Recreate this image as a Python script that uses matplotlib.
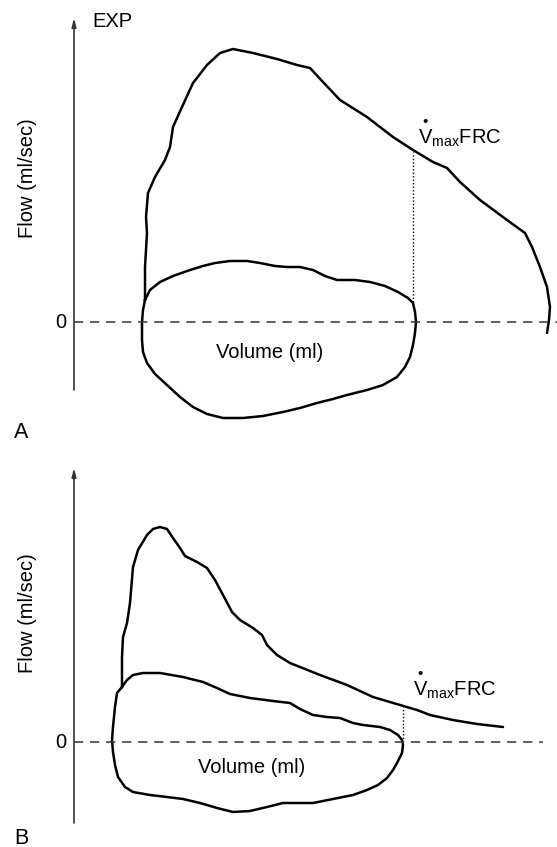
import matplotlib
matplotlib.use("Agg")
import matplotlib.pyplot as plt

plt.rcParams['font.family'] = ['Liberation Sans', 'DejaVu Sans']
plt.rcParams['mathtext.fontset'] = 'custom'
plt.rcParams['mathtext.rm'] = 'Liberation Sans'
plt.rcParams['mathtext.it'] = 'Liberation Sans'

# traced curves, (volume, flow) in arbitrary units, zero flow = 0
# panel A: maximal expiratory curve and tidal loop
a_max_vol = [71, 71, 73, 72, 74, 81, 91, 96, 99, 108, 119, 133, 146, 159, 179, 203, 223, 236, 249,
             266, 293, 319, 339, 359, 373, 386, 406, 433, 451, 458, 466, 473, 476, 475, 473]
a_max_flow = [22, 55, 89, 105, 129, 145, 162, 175, 195, 215, 239, 257, 269, 273, 269, 263, 257, 254, 240,
              222, 205, 185, 172, 160, 154, 140, 122, 102, 89, 75, 55, 35, 15, 2, -11]
a_tid_vol = [71, 76, 86, 99, 116, 129, 141, 156, 173, 186, 201, 213, 226, 239, 251, 263, 281, 296, 311,
             324, 334, 339, 341, 342, 341, 339, 336, 331, 323, 309, 293, 273, 259, 243, 226, 209, 189,
             169, 149, 133, 119, 106, 93, 81, 73, 69, 68, 68, 69, 71]
a_tid_flow = [22, 32, 40, 46, 52, 56, 59, 61, 61, 59, 56, 55, 55, 52, 46, 42, 42, 40, 36,
              30, 24, 19, 10, 0, -11, -23, -35, -45, -55, -63, -68, -73, -77, -81, -86, -90, -94,
              -96, -96, -92, -85, -75, -63, -52, -41, -30, -18, 0, 12, 22]
a_frc_vol = 339
a_frc_flow = (20, 170)

# panel B
b_max_vol = [48, 48, 49, 53, 56, 59, 64, 73, 79, 86, 93, 99, 106, 111, 123, 133, 141, 149, 158, 166,
             179, 188, 193, 203, 216, 226, 246, 273, 299, 326, 343, 356, 379, 403, 429]
b_max_flow = [55, 85, 105, 119, 139, 175, 192, 207, 213, 215, 213, 204, 194, 186, 180, 174, 162, 147, 130, 122,
              114, 107, 97, 87, 79, 75, 67, 57, 45, 37, 32, 27, 22, 18, 15]
b_tid_vol = [48, 53, 59, 69, 86, 109, 129, 143, 156, 176, 199, 216, 226, 239, 253, 266, 279, 289, 306,
             316, 324, 328, 329, 328, 323, 319, 313, 304, 293, 279, 259, 239, 226, 209, 193, 176, 159,
             143, 126, 109, 93, 76, 59, 51, 44, 41, 39, 38, 39, 41, 43, 48]
b_tid_flow = [55, 62, 67, 69, 69, 65, 60, 54, 48, 44, 41, 39, 33, 27, 25, 24, 19, 17, 15,
              12, 7, 2, -3, -11, -21, -28, -36, -43, -48, -53, -57, -61, -61, -61, -65, -69, -70,
              -66, -61, -57, -55, -53, -50, -45, -35, -23, -10, 2, 15, 35, 49, 55]
b_frc_vol = 329
b_frc_flow = (0, 35)

W, H = 557, 847
fig = plt.figure(figsize=(W / 100, H / 100), dpi=100)
fs = 14.5


def panel(ax, mv, mf, tv, tf, fv, ff, ax_lo, ax_hi, dash_end, flow_lab_y, vol_lab, frc_pos, exp):
    ax.set_xlim(-74, 483)
    ax.axis('off')
    ax.plot(mv, mf, color='black', lw=1.8, solid_capstyle='round', solid_joinstyle='round')
    ax.plot(tv, tf, color='black', lw=1.8, solid_joinstyle='round')
    ax.plot([fv, fv], ff, color='black', lw=1.0, linestyle=(0, (1, 1.5)))
    ax.plot([0, dash_end], [0, 0], color='#333333', lw=1.1, linestyle=(0, (6, 4.5)))
    ax.annotate('', xy=(0, ax_hi), xytext=(0, ax_lo),
                arrowprops=dict(arrowstyle='-|>,head_length=0.5,head_width=0.13', color='#333333', lw=1.2,
                                shrinkA=0, shrinkB=0))
    ax.text(-8, 0, '0', fontsize=fs, ha='right', va='center')
    ax.text(-47, flow_lab_y, 'Flow (ml/sec)', fontsize=fs, rotation=90, ha='center', va='center')
    ax.text(vol_lab[0], vol_lab[1], 'Volume (ml)', fontsize=fs, ha='center', va='center')
    ax.text(frc_pos[0], frc_pos[1], r'$\mathrm{V}_{\mathrm{max}}\mathrm{FRC}$', fontsize=fs,
            ha='left', va='center')
    # dot over the V
    ax.annotate('\u2022', xy=frc_pos, xytext=(5, 11.5), textcoords='offset points',
                fontsize=11, ha='center', va='center')
    if exp:
        ax.text(18, 300, 'EXP', fontsize=fs, ha='left', va='center')


axA = fig.add_axes([0, 427 / H, 1, 420 / H])
axA.set_ylim(-98, 322)
panel(axA, a_max_vol, a_max_flow, a_tid_vol, a_tid_flow, a_frc_vol, a_frc_flow,
      -68, 304, 483, 144, (196, -30), (344, 184), True)

axB = fig.add_axes([0, 0, 1, 427 / H])
axB.set_ylim(-105, 322)
panel(axB, b_max_vol, b_max_flow, b_tid_vol, b_tid_flow, b_frc_vol, b_frc_flow,
      -81, 274, 469, 129, (178, -25), (339, 52), False)

fig.text(14 / W, 1 - 432 / H, 'A', fontsize=fs + 1, ha='left', va='center')
fig.text(14 / W, 1 - 838 / H, 'B', fontsize=fs + 1, ha='left', va='center')

fig.savefig('out.png', dpi=100)
